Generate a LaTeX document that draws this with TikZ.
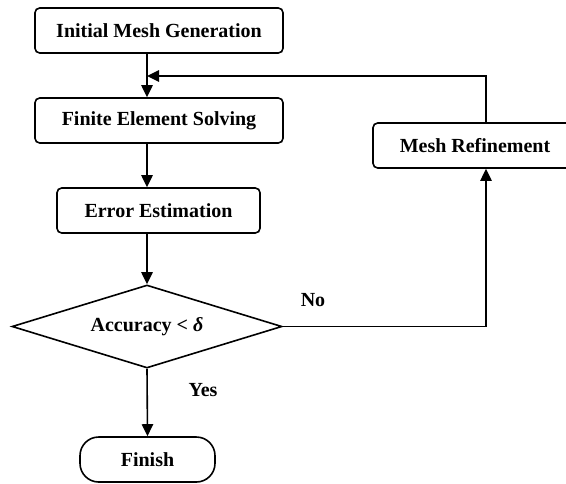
\documentclass[tikz,border=0pt]{standalone}
\usepackage{fontspec}
\setmainfont{Liberation Serif}
\usetikzlibrary{arrows.meta}
\usetikzlibrary{shapes.geometric}

\begin{document}
\begin{tikzpicture}[x=0.75pt,y=-0.75pt,
		font=\bfseries\fontsize{15}{18}\selectfont,
		line width=1.2pt,
		box/.style={draw, rounded corners=3.5pt, minimum height=33.75pt, inner sep=0pt},
		decision/.style={draw, diamond, aspect=3.25, minimum width=202.5pt, minimum height=62.25pt, inner sep=0pt},
		arr/.style={-{Triangle[length=9pt,width=8.5pt]}}]
		\useasboundingbox (0,0) rectangle (566,483);

		\node[box, minimum width=186pt] (init) at (159,30.5) {Initial Mesh Generation};
		\node[box, minimum width=186pt] (solve) at (159,120.5) {Finite Element Solving};
		\node[box, minimum width=152.25pt] (est) at (158.5,210.5) {Error Estimation};
		\node[decision] (acc) at (147,326.5) {Accuracy < {\itshape δ}};
		\node[box, rounded corners=14pt, minimum width=101.25pt] (fin) at (147.5,459.5) {Finish};
		\node[box, minimum width=153pt] (refine) at (475,145.5) {Mesh Refinement};

		\coordinate (join) at (147,76);
		\coordinate (up) at (486,76);

		\draw[arr] (init.south -| acc) -- (solve.north -| acc);
		\draw[arr] (refine.north -| up) -- (up) -- (join);
		\draw[arr] (solve.south -| acc) -- (est.north -| acc);
		\draw[arr] (est.south -| acc) -- (acc.north);
		\draw[arr] (acc.east) -| (refine.south -| up);
		\draw[arr] (acc.south) -- (fin.north);

		\node (no) at (313,300) {No};
		\node (yes) at (203,390) {Yes};

		\end{tikzpicture}
\end{document}
